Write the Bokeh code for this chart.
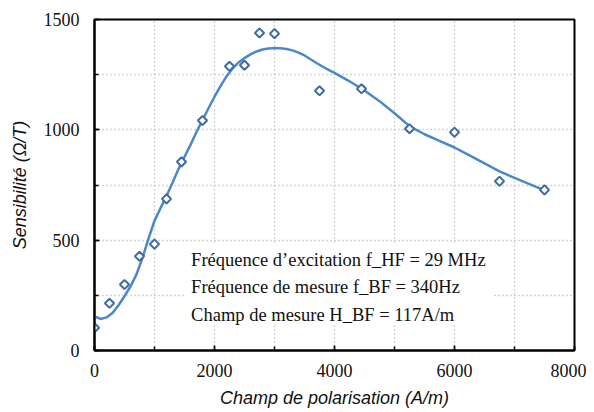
import math
from bokeh.plotting import figure
from bokeh.models import Range1d, SingleIntervalTicker, Label, BoxAnnotation
from bokeh.embed import file_html
from bokeh.resources import INLINE

# measured points
champ = [0, 250, 500, 750, 1000, 1200, 1450, 1800, 2250, 2500, 2750, 3000,
         3750, 4450, 5250, 6000, 6750, 7500]
sensibilite = [103, 214, 299, 427, 482, 687, 855, 1042, 1288, 1293, 1439, 1436,
               1177, 1186, 1005, 989, 767, 728]

# fitted curve
fit_x = [0, 100, 200, 300, 400, 500, 600, 700, 800, 900, 1000, 1100, 1200, 1300,
         1400, 1500, 1600, 1700, 1800, 1900, 2000, 2100, 2200, 2300, 2400, 2500,
         2600, 2700, 2800, 2900, 3000, 3100, 3200, 3300, 3400, 3500, 3600, 3700,
         3800, 3900, 4000, 4250, 4500, 4750, 5000, 5250, 5500, 5750, 6000, 6250,
         6500, 6750, 7000, 7250, 7500]
fit_y = [155, 143, 150, 170, 205, 246, 290, 345, 420, 507, 588, 645, 700, 760,
         822, 878, 932, 990, 1044, 1098, 1150, 1198, 1242, 1278, 1305, 1325,
         1342, 1355, 1364, 1369, 1371, 1370, 1366, 1360, 1350, 1337, 1320, 1303,
         1287, 1272, 1258, 1220, 1178, 1130, 1075, 1017, 980, 950, 920, 884,
         848, 812, 782, 754, 726]

notes = ["Fréquence d\u2019excitation f_HF = 29 MHz",
         "Fréquence de mesure f_BF = 340Hz",
         "Champ de mesure H_BF = 117A/m"]
note_y = [408, 286, 163]

x_title = "Champ de polarisation (A/m)"
y_title = "Sensibilité (\u03a9/T)"

p = figure(width=586, height=410,
           output_backend="svg", toolbar_location=None,
           x_range=Range1d(0, 8000), y_range=Range1d(0, 1500),
           min_border_left=94, min_border_right=12, min_border_top=19,
           min_border_bottom=60)

p.background_fill_color = "white"
p.border_fill_color = "white"
p.outline_line_color = "black"
p.outline_line_width = 2

p.xaxis.ticker = SingleIntervalTicker(interval=2000, num_minor_ticks=2)
p.yaxis.ticker = SingleIntervalTicker(interval=500, num_minor_ticks=2)
p.xgrid.ticker = SingleIntervalTicker(interval=1000)
p.ygrid.ticker = SingleIntervalTicker(interval=250)
for g in (p.xgrid, p.ygrid):
    g.grid_line_color = "#a8a8a8"
    g.grid_line_dash = "1 3"
    g.grid_line_width = 1.3

for ax in (p.xaxis, p.yaxis):
    ax.axis_line_color = "black"
    ax.axis_line_width = 2
    ax.major_tick_in = 5
    ax.major_tick_out = 0
    ax.minor_tick_in = 4
    ax.minor_tick_out = 0
    ax.major_tick_line_color = "black"
    ax.minor_tick_line_color = "black"
    ax.major_tick_line_width = 1.5
    ax.minor_tick_line_width = 1.5
    ax.major_label_text_font = "Liberation Serif"
    ax.major_label_text_font_size = "18px"
    ax.major_label_text_color = "#111111"
    ax.axis_label_text_font = "Liberation Sans"
    ax.axis_label_text_font_style = "italic"
    ax.axis_label_text_font_size = "18px"
    ax.axis_label_text_color = "#111111"

p.xaxis.axis_label = x_title
p.yaxis.axis_label = y_title
p.xaxis.major_label_standoff = 13
p.xaxis.axis_label_standoff = 8
p.yaxis.major_label_standoff = 15
p.yaxis.axis_label_standoff = 11

box = BoxAnnotation(left=1530, right=6633, bottom=118, top=489,
                    fill_color="white", fill_alpha=1.0, line_color=None,
                    level="underlay")
p.add_layout(box)

p.line(fit_x, fit_y, line_color="#4a88c9", line_width=2.5)
p.scatter(champ, sensibilite, marker="square", size=6.5, angle=math.pi / 4,
          fill_color="white", line_color="#3b6ca3", line_width=2)

for t, yy in zip(notes, note_y):
    p.add_layout(Label(x=1610, y=yy, text=t, text_font="Liberation Serif",
                       text_font_size="18.5px", text_color="#111111",
                       text_baseline="alphabetic", text_align="left"))

open("out.html", "w").write(file_html(p, INLINE))
